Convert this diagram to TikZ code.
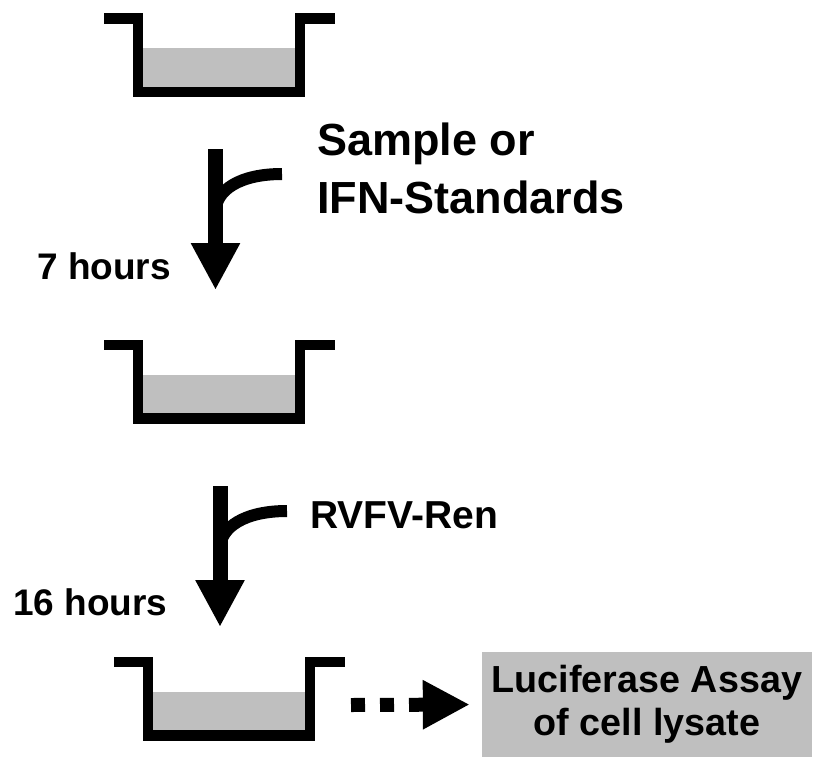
\documentclass[tikz,border=0pt]{standalone}
\usepackage{fontspec}
\setmainfont{Liberation Sans}
\usepackage{xcolor}
\usepackage{tikz}
\usetikzlibrary{positioning,arrows.meta}
\definecolor{cellgray}{RGB}{191,191,191}
\newcommand{\wellbox}[2]{
  \def\x{#1}
  \def\y{#2}
  \fill[liquid] (\x+34,\y+29.5) rectangle (\x+196,\y+73.5);
  \draw[wall] (\x,\y) -- +(34,0) -- +(34,73.5) -- +(196,73.5) -- +(196,0) -- +(231,0);
}
\tikzset{
  wall/.style={line width=10.5pt},
  liquid/.style={fill=cellgray},
  step arrow/.style={line width=15pt, -{Triangle[length=47pt,width=46pt]}},
  feed/.style={line width=12pt},
  dots arrow/.style={line width=14pt, dash pattern=on 14pt off 15pt, -{Triangle[length=47pt,width=46pt]}},
  steptext/.style={inner sep=0pt, font=\bfseries\fontsize{37}{44}\selectfont},
  addtext/.style={inner sep=0pt, anchor=north west, align=left, font=\bfseries\fontsize{45}{58}\selectfont}
}

\begin{document}
\begin{tikzpicture}[x=1pt,y=-1pt]
\useasboundingbox (0,0) rectangle (825,761);
% the three wells
\wellbox{104}{18.5}
\wellbox{104}{345}
\wellbox{114}{662}
% first step
\coordinate (top1) at (215.5,149);
\coordinate (bot1) at (215.5,290);
\coordinate (feed1) at (282,174);
\coordinate (join1) at (215.5,212);
\draw[step arrow] (top1) -- (bot1);
\draw[feed] (feed1) .. controls +(-42,0) and +(0,-22) .. (join1);
\node[addtext] (sample) at (317,123) {Sample or\\IFN-Standards};
\node[steptext, anchor=base west] (hours7) at (37,279) {7 hours};
% second step
\coordinate (top2) at (220,486);
\coordinate (bot2) at (220,627);
\coordinate (feed2) at (287,511);
\coordinate (join2) at (220,549);
\draw[step arrow] (top2) -- (bot2);
\draw[feed] (feed2) .. controls +(-42,0) and +(0,-22) .. (join2);
\node[steptext, anchor=base west, font=\bfseries\fontsize{39}{46}\selectfont] (rvfv) at (310,528) {RVFV-Ren};
\node[steptext, anchor=base west] (hours16) at (13,615) {16 hours};
% read-out
\node[fill=cellgray, minimum width=330pt, minimum height=105pt, align=center,
  font=\bfseries\fontsize{37.7}{43}\selectfont] (assay) at (647,704.5) {Luciferase Assay\\of cell lysate};
\coordinate (out3) at (351,705);
\draw[dots arrow, shorten >=12pt] (out3) -- (assay.west);
\end{tikzpicture}
\end{document}
